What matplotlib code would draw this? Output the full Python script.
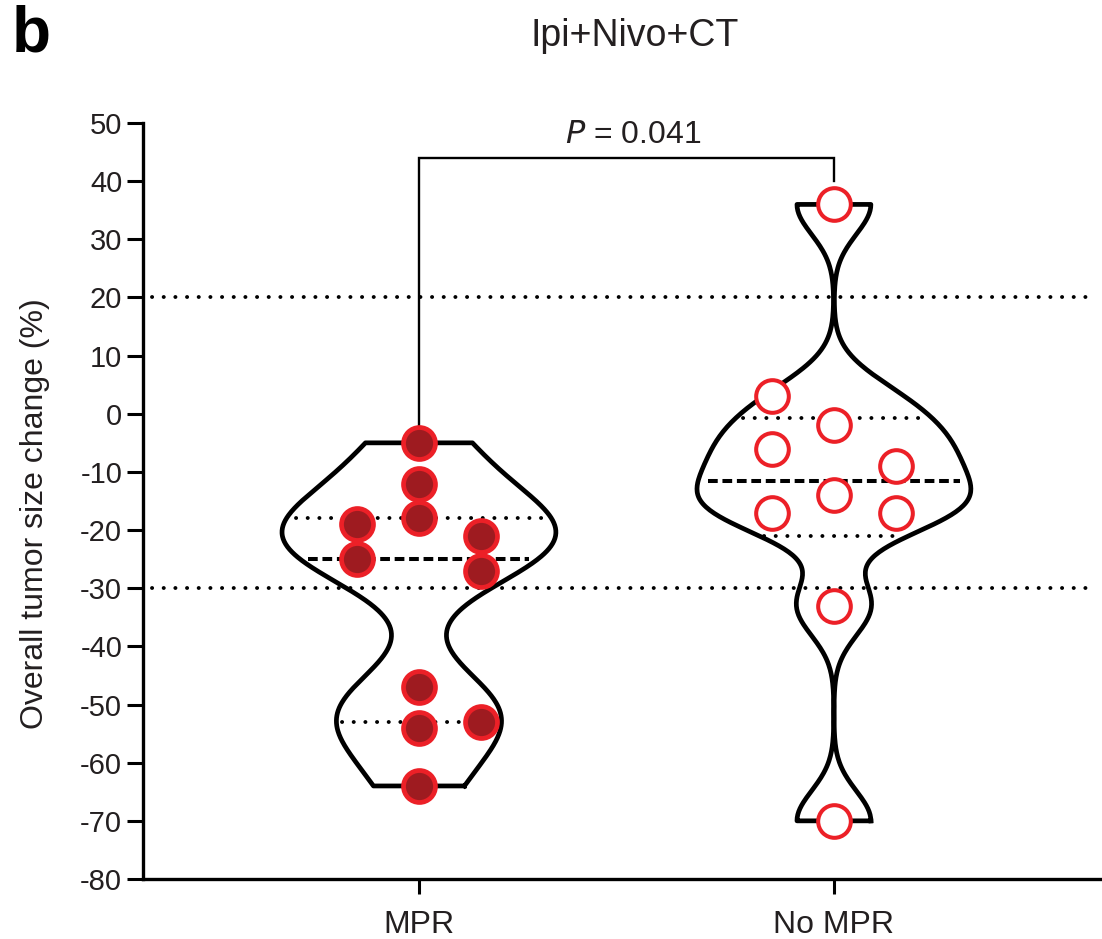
import numpy as np
import matplotlib
matplotlib.use("Agg")
import matplotlib.pyplot as plt

plt.rcParams['font.family'] = ['Liberation Sans', 'DejaVu Sans']
plt.rcParams['lines.scale_dashes'] = False

# ---- data ----
categories = ["MPR", "No MPR"]
mpr_values = [-5, -12, -18, -19, -25, -21, -27, -47, -54, -64, -53]
mpr_slots = [0, 0, 0, -1, -1, 1, 1, 0, 0, 0, 1]
nompr_values = [36, 3, -2, -6, -9, -14, -17, -17, -33, -70]
nompr_slots = [0, -1, 0, -1, 1, 0, -1, 1, 0, 0]
ref_lines = [20, -30]
y_ticks = list(range(-80, 51, 10))
p_label = "$\\it{P}$ = 0.041"
title = "Ipi+Nivo+CT"
ylabel = "Overall tumor size change (%)"
panel = "b"

TXT = '#231F20'
RED = '#EC2027'
DARK = '#9E1B20'

fig = plt.figure(figsize=(11.02, 9.39), dpi=100)
ax = fig.add_axes([143/1102, 1-879/939, 1-143/1102, (879-123)/939])

bw_factor = 0.6
half_max = 0.33
slot_w = 0.15


def kde(vals, grid, h):
    v = np.asarray(vals, float)[:, None]
    return np.exp(-0.5 * ((grid[None, :] - v) / h) ** 2).sum(axis=0)


def bandwidth(v):
    q1, q3 = np.percentile(v, [25, 75], method='weibull')
    s = min(np.std(v, ddof=1), (q3 - q1) / 1.34)
    return bw_factor * 0.9 * s * len(v) ** -0.2


for i, (vals, slots, filled) in enumerate([(mpr_values, mpr_slots, True),
                                           (nompr_values, nompr_slots, False)]):
    v = np.asarray(vals, float)
    bw = bandwidth(v)
    grid = np.linspace(v.min(), v.max(), 400)
    d = kde(v, grid, bw)
    scale = half_max / d.max()
    w = d * scale
    xs = np.concatenate([i + w, (i - w)[::-1], [i + w[0]]])
    ys = np.concatenate([grid, grid[::-1], [grid[0]]])
    ax.plot(xs, ys, color='black', lw=3.4, solid_joinstyle='round', zorder=3, clip_on=False)
    q1, med, q3 = np.percentile(v, [25, 50, 75], method='weibull')
    for q, style, lw, cap in [(med, (0, (7.0, 3.4)), 2.9, 'butt'),
                              (q1, (0, (0.1, 8.3)), 2.8, 'round'),
                              (q3, (0, (0.1, 8.3)), 2.8, 'round')]:
        hw = kde(v, np.array([q]), bw)[0] * scale * 0.93
        ax.plot([i - hw, i + hw], [q, q], color='black', lw=lw, linestyle=style,
                dash_capstyle=cap, zorder=4)
    xp = i + np.asarray(slots) * slot_w
    if filled:
        ax.plot(xp, v, 'o', ms=23, mfc=DARK, mec=RED, mew=3.4, zorder=5, clip_on=False)
    else:
        ax.plot(xp, v, 'o', ms=23.5, mfc='white', mec=RED, mew=2.9, zorder=5, clip_on=False)

for r in ref_lines:
    ax.axhline(r, xmin=0.0094, xmax=0.9875, color='black', lw=2.8,
               linestyle=(0, (0.1, 8.3)), dash_capstyle='round', zorder=1)

# significance bracket
ax.plot([0, 0, 1, 1], [-2, 44, 44, 40], color='black', lw=1.7, zorder=2,
        solid_joinstyle='miter')
ax.text(0.516, 46.6, p_label, ha='center', va='baseline', fontsize=23, color=TXT)

ax.set_xlim(-0.665, 1.646)
ax.set_ylim(-80, 50)
ax.set_yticks(y_ticks)
ax.set_yticklabels([str(t) for t in y_ticks])
ax.set_xticks([0, 1])
ax.set_xticklabels(categories)
for s in ['top', 'right']:
    ax.spines[s].set_visible(False)
for s in ['left', 'bottom']:
    ax.spines[s].set_linewidth(2.4)
ax.tick_params(axis='y', length=11.5, width=2.2, labelsize=21, pad=3.5, colors='black', labelcolor=TXT)
ax.tick_params(axis='x', length=11, width=2.2, labelsize=23, pad=11, colors='black', labelcolor=TXT)

fig.text(35/1102, 1-514/939, ylabel, rotation=90, ha='center', va='center', fontsize=23, color=TXT)
fig.text(0.576, 1-46/939, title, ha='center', va='baseline', fontsize=27, color=TXT)
fig.text(12/1102, 1-52/939, panel, ha='left', va='baseline', fontsize=46, fontweight='bold', color='black')

fig.savefig('out.png', dpi=100)
